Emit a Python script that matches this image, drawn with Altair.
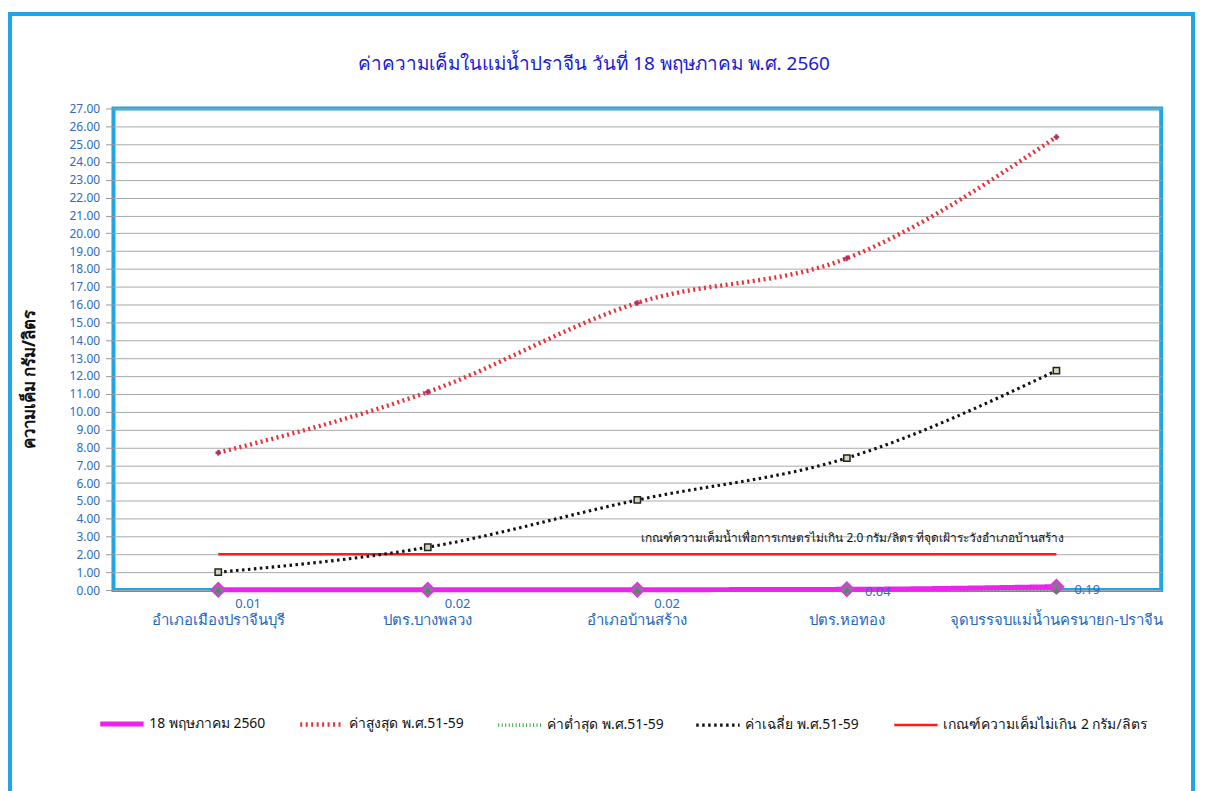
import altair as alt
import pandas as pd

stations = ["อำเภอเมืองปราจีนบุรี", "ปตร.บางพลวง", "อำเภอบ้านสร้าง", "ปตร.หอทอง", "จุดบรรจบแม่น้ำนครนายก-ปราจีน"]
s_today = "18 พฤษภาคม 2560"
s_max = "ค่าสูงสุด พ.ศ.51-59"
s_min = "ค่าต่ำสุด พ.ศ.51-59"
s_avg = "ค่าเฉลี่ย  พ.ศ.51-59"
s_crit = "เกณฑ์ความเค็มไม่เกิน 2 กรัม/ลิตร"

today_vals = [0.01, 0.02, 0.02, 0.04, 0.19]
max_vals = [7.70, 11.10, 16.10, 18.60, 25.40]
min_vals = [0.00, 0.00, 0.00, 0.00, 0.00]
avg_vals = [1.00, 2.40, 5.05, 7.40, 12.30]
crit_vals = [2.0, 2.0, 2.0, 2.0, 2.0]
y_ticks = list(range(0, 28))

legend_order = [s_today, s_max, s_min, s_avg, s_crit]
colors = ["#ee22ee", "#e8303a", "#3aaa4a", "#111111", "#ff1a1a"]
dashes = [[1, 0], [2, 3.5], [1, 2.5], [2.5, 3.5], [1, 0]]
widths = [5, 2.5, 1.5, 2.5, 3]

rows = []
# drawing order: criterion, max, avg, min, today
for name, vals in [(s_crit, crit_vals), (s_max, max_vals), (s_avg, avg_vals), (s_min, min_vals), (s_today, today_vals)]:
    for st, v in zip(stations, vals):
        rows.append({"series": name, "station": st, "value": v})
df = pd.DataFrame(rows)

title_text = "ค่าความเค็มในแม่น้ำปราจีน วันที่ 18 พฤษภาคม พ.ศ. 2560"
note_text = "เกณฑ์ความเค็มน้ำเพื่อการเกษตรไม่เกิน 2.0 กรัม/ลิตร  ที่จุดเฝ้าระวังอำเภอบ้านสร้าง"
font = "Tahoma, 'Noto Sans', sans-serif"

x_enc = alt.X("station:N", sort=stations,
              scale=alt.Scale(type="band", paddingInner=0, paddingOuter=0),
              axis=alt.Axis(title=None, labelAngle=0, labelColor="#1f66c4", labelFontSize=15,
                            labelPadding=23, ticks=False, domain=False, grid=False, labelFont=font,
                            labelLimit=400))
y_scale = alt.Scale(domain=[0, 27], nice=False, zero=True)
y_enc = alt.Y("value:Q", scale=y_scale,
              axis=alt.Axis(values=y_ticks, format=".2f", title="ความเค็ม  กรัม/ลิตร",
                            labelOverlap=False,
                            titleFontSize=17, titleFontWeight="bold", titleColor="#111111",
                            titleX=-84, titleY=272, titleAngle=-90, titleAlign="center",
                            titleBaseline="middle", labelColor="#2e6cc0", labelFontSize=12,
                            labelPadding=6, tickSize=8, tickColor="#999999", domain=False,
                            gridColor="#a8a8a8", gridWidth=1, labelFont=font, titleFont=font))

base = alt.Chart(df)

lines = base.mark_line(interpolate="monotone").encode(
    x=x_enc, y=y_enc,
    color=alt.Color("series:N", scale=alt.Scale(domain=legend_order, range=colors),
                    legend=alt.Legend(title=None, orient="none", legendX=-16, legendY=594,
                                      direction="horizontal", columns=5, symbolType="stroke",
                                      symbolSize=1900, symbolStrokeWidth=3, columnPadding=25,
                                      labelFontSize=14, labelFont=font, labelColor="#111111",
                                      labelLimit=400, labelOffset=3)),
    strokeDash=alt.StrokeDash("series:N", scale=alt.Scale(domain=legend_order, range=dashes), legend=None),
    strokeWidth=alt.StrokeWidth("series:N", scale=alt.Scale(domain=legend_order, range=widths), legend=None),
    detail="series:N",
)

def pts(name, shape, fill, stroke, size, sw=1):
    return base.transform_filter(alt.datum.series == name).mark_point(
        shape=shape, filled=True, fill=fill, stroke=stroke, size=size, strokeWidth=sw, opacity=1
    ).encode(x=x_enc, y=y_enc)

p_max = pts(s_max, "cross", "#b03068", "#b03068", 25, 0.5)
p_avg = pts(s_avg, "square", "#d8d4b8", "#222222", 40, 1.5)
p_today = pts(s_today, "diamond", "#9a6aa6", "#d43cd4", 190, 2)
p_min = pts(s_min, "triangle-up", "#3a9a4a", "#3a9a4a", 30, 0.5)

lab_lo = base.transform_filter((alt.datum.series == s_today) & (alt.datum.value < 0.03)).mark_text(
    dx=30, dy=14, fontSize=13, color="#2e6cc0", font=font
).encode(x=x_enc, y=y_enc, text=alt.Text("value:Q", format=".2f"))
lab_hi = base.transform_filter((alt.datum.series == s_today) & (alt.datum.value >= 0.03)).mark_text(
    dx=31, dy=3, fontSize=13, color="#2e6cc0", font=font
).encode(x=x_enc, y=y_enc, text=alt.Text("value:Q", format=".2f"))

note = base.transform_filter((alt.datum.series == s_crit) & (alt.datum.station == stations[2])).mark_text(
    align="left", baseline="middle", dx=4, dy=-16, fontSize=12, color="#111111", text=note_text, font=font
).encode(x=x_enc, y=y_enc)

one = pd.DataFrame({"a": [0]})
frame = alt.Chart(one).mark_rect(
    filled=False, stroke="#1ea6e6", strokeWidth=4
).encode(x=alt.value(-104), x2=alt.value(1085), y=alt.value(-95), y2=alt.value(720))

title = alt.Chart(one).mark_text(
    text=title_text, fontSize=19, color="#1a1ad6", font=font, align="center", baseline="middle"
).encode(x=alt.value(483), y=alt.value(-45))

chart = alt.layer(frame, title, lines, p_max, p_avg, p_today, p_min, lab_lo, lab_hi, note).properties(
    width=1053, height=484,
    background="white",
    autosize=alt.AutoSizeParams(type="none"),
    padding={"left": 106, "top": 99, "right": 36, "bottom": 200},
).configure_view(stroke="#1ea6e6", strokeWidth=4)

chart.save("out.html", embed_options={"renderer": "svg", "actions": False})
